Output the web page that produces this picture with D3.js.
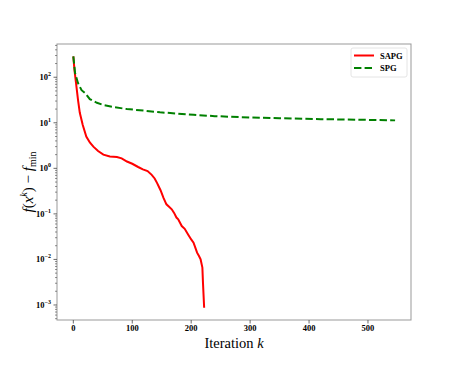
<!DOCTYPE html>
<html>
<head>
<meta charset="utf-8">
<script src="https://cdn.jsdelivr.net/npm/d3@7"></script>
<style>
  body { margin: 0; background: #fff; }
  svg { display: block; font-family: "Liberation Serif", "DejaVu Serif", serif; }
</style>
</head>
<body>
<script>
// SAPG: iteration k and f(x^k) - f_min
const sapgIter = [0, 2, 4.6, 8, 11, 16, 22, 28, 34, 42, 51, 62, 74, 82, 91, 100, 110, 118, 126, 133, 138, 142,
  148, 153, 158, 162, 167, 171, 175, 178, 184, 189, 195, 200, 204, 207, 210, 213, 216, 219, 220, 222];
const sapgVal = [288, 141, 74, 31.6, 16.6, 8.9, 5.0, 3.7, 3.0, 2.4, 2.0, 1.82, 1.78, 1.66, 1.41, 1.26, 1.07, 0.95,
  0.87, 0.72, 0.60, 0.48, 0.33, 0.224, 0.162, 0.145, 0.126, 0.105, 0.083, 0.076, 0.054, 0.047, 0.035, 0.0275,
  0.0234, 0.0182, 0.0141, 0.012, 0.010, 0.0066, 0.0031, 0.00087];

// SPG
const spgIter = [0, 3, 8, 14, 20, 28, 40, 51, 70, 91, 120, 147, 175, 204, 240, 283, 350, 420, 480, 546];
const spgVal = [288, 123, 74, 52, 45, 33, 27.5, 24.5, 22, 20, 18.5, 17, 16, 15, 14, 13.3, 12.6, 12.0, 11.7, 11.3];

const xTicks = [0, 100, 200, 300, 400, 500];
const yExps = [2, 1, 0, -1, -2, -3];

const series = [
  {name: "SAPG", iter: sapgIter, val: sapgVal, color: "#ff0000", dash: null},
  {name: "SPG", iter: spgIter, val: spgVal, color: "#008000", dash: "7.4,3.2"}
];

const width = 457, height = 366;
const margin = {top: 44, right: 46, bottom: 46, left: 57};

const svg = d3.select("body").append("svg")
    .attr("width", width)
    .attr("height", height);

const x = d3.scaleLinear()
    .domain([-27.7, 573])
    .range([margin.left, width - margin.right]);

const y = d3.scaleLog()
    .domain([Math.pow(10, -3.33), Math.pow(10, 2.73)])
    .range([height - margin.bottom, margin.top]);

const line = d3.line()
    .x(d => x(d[0]))
    .y(d => y(d[1]));

const g = svg.append("g");

series.forEach(s => {
  g.append("path")
      .datum(s.iter.map((k, i) => [k, s.val[i]]))
      .attr("fill", "none")
      .attr("stroke", s.color)
      .attr("stroke-width", 2)
      .attr("stroke-dasharray", s.dash)
      .attr("d", line);
});

// frame
svg.append("rect")
    .attr("x", margin.left)
    .attr("y", margin.top)
    .attr("width", width - margin.right - margin.left)
    .attr("height", height - margin.bottom - margin.top)
    .attr("fill", "none")
    .attr("stroke", "#999")
    .attr("stroke-width", 1);

// x axis
const xAxis = svg.append("g")
    .attr("transform", `translate(0,${height - margin.bottom})`);
xTicks.forEach(t => {
  xAxis.append("line")
      .attr("x1", x(t)).attr("x2", x(t))
      .attr("y1", 0).attr("y2", 3.5)
      .attr("stroke", "#444").attr("stroke-width", 0.8);
  xAxis.append("text")
      .attr("x", x(t)).attr("y", 11)
      .attr("text-anchor", "middle")
      .attr("font-size", 8.5)
      .attr("font-weight", "bold")
      .text(t);
});

// y axis
const yAxis = svg.append("g")
    .attr("transform", `translate(${margin.left},0)`);
const [lo, hi] = y.domain();
for (let e = -4; e <= 2; e++) {
  for (let m = 1; m < 10; m++) {
    const v = m * Math.pow(10, e);
    if (v < lo || v > hi) continue;
    yAxis.append("line")
        .attr("x1", 0).attr("x2", m === 1 ? -3.5 : -2)
        .attr("y1", y(v)).attr("y2", y(v))
        .attr("stroke", "#444").attr("stroke-width", m === 1 ? 0.8 : 0.6);
  }
}
yExps.forEach(e => {
  const t = yAxis.append("text")
      .attr("x", -6).attr("y", y(Math.pow(10, e)) + 3)
      .attr("text-anchor", "end")
      .attr("font-size", 8.5)
      .attr("font-weight", "bold");
  t.append("tspan").text("10");
  t.append("tspan")
      .attr("dy", -4)
      .attr("font-size", 6)
      .text(e < 0 ? "\u2212" + (-e) : e);
});

// axis labels
const xl = svg.append("text")
    .attr("x", (margin.left + width - margin.right) / 2)
    .attr("y", 348)
    .attr("text-anchor", "middle")
    .attr("font-size", 14.5);
xl.append("tspan").text("Iteration ");
xl.append("tspan").attr("font-style", "italic").text("k");

const yl = svg.append("text")
    .attr("transform", `translate(33,${(margin.top + height - margin.bottom) / 2}) rotate(-90)`)
    .attr("text-anchor", "middle")
    .attr("font-size", 15);
yl.append("tspan").attr("font-style", "italic").text("f");
yl.append("tspan").text("(");
yl.append("tspan").attr("font-style", "italic").text("x");
yl.append("tspan").attr("font-style", "italic").attr("font-size", 10).attr("dy", -6).text("k");
yl.append("tspan").attr("dy", 6).text(") \u2212 ");
yl.append("tspan").attr("font-style", "italic").text("f");
yl.append("tspan").attr("font-size", 10).attr("dy", 3).text("min");

// legend
const legend = svg.append("g").attr("transform", "translate(351,48)");
legend.append("rect")
    .attr("width", 56).attr("height", 29)
    .attr("rx", 2)
    .attr("fill", "#fff")
    .attr("stroke", "#ddd")
    .attr("stroke-width", 0.8);
series.forEach((s, i) => {
  const yy = 7.5 + i * 12.5;
  legend.append("line")
      .attr("x1", 3).attr("x2", 23)
      .attr("y1", yy).attr("y2", yy)
      .attr("stroke", s.color)
      .attr("stroke-width", 2)
      .attr("stroke-dasharray", s.dash);
  legend.append("text")
      .attr("x", 29).attr("y", yy + 3)
      .attr("font-size", 8.5)
      .attr("font-weight", "bold")
      .text(s.name);
});
</script>
</body>
</html>
